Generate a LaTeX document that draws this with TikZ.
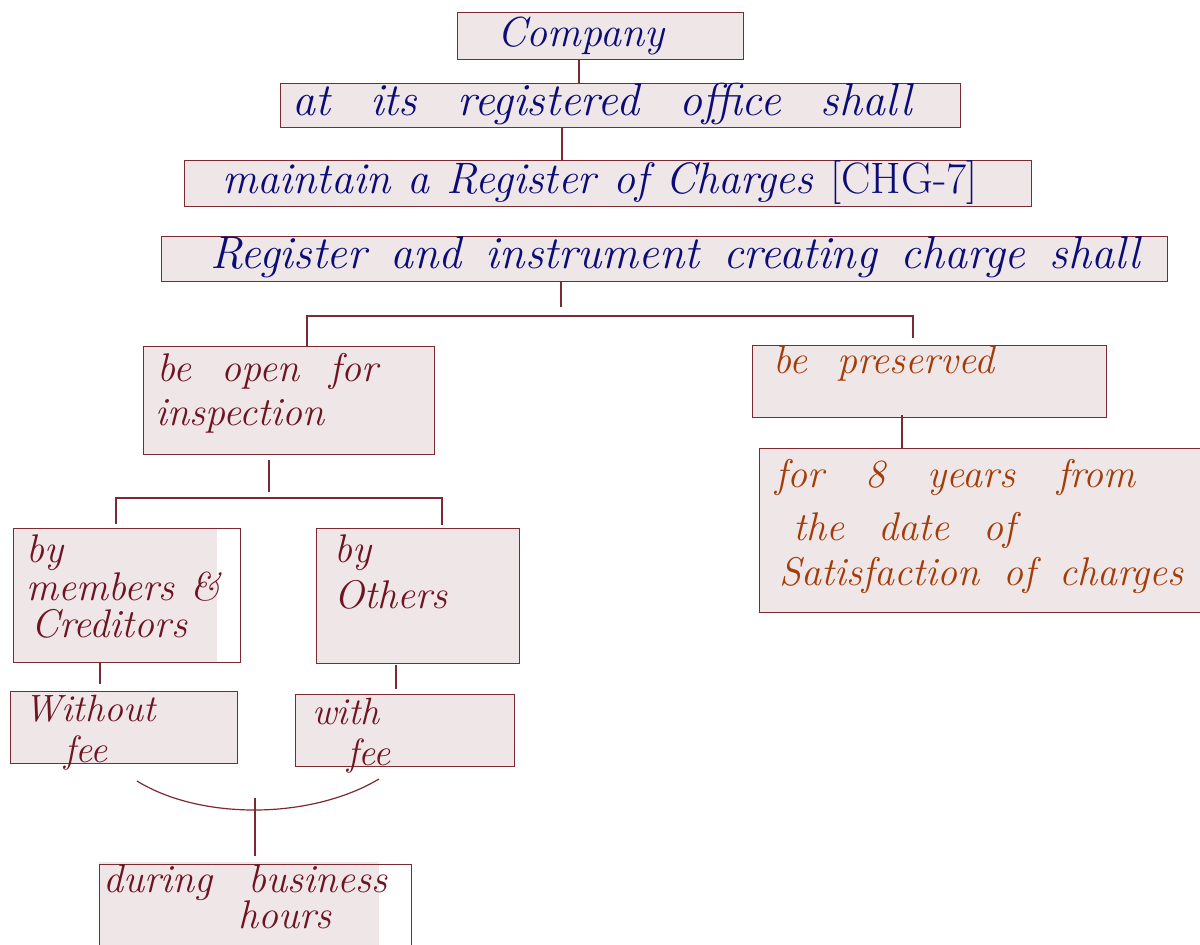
\documentclass[tikz,border=0pt]{standalone}
\usepackage{fontspec}
\definecolor{boxfill}{HTML}{EFE6E7}
\definecolor{boxline}{HTML}{7A2A32}
\definecolor{inkblue}{HTML}{0C0C78}
\definecolor{inkred}{HTML}{6E1422}
\definecolor{inkorange}{HTML}{A33C08}
\newcommand{\fs}[1]{\fontsize{#1}{#1}\selectfont\itshape}
\begin{document}
\begin{tikzpicture}[x=1pt,y=-1pt,
  box/.style={draw=boxline, fill=boxfill, line width=1.4pt, inner sep=0pt, anchor=north west},
  openbox/.style={draw=boxline, line width=1.4pt, inner sep=0pt, anchor=north west},
  conn/.style={draw=boxline, line width=1.2pt},
  txt/.style={anchor=base west, inner sep=0pt},
  blue/.style={txt, text=inkblue},
  red/.style={txt, text=inkred},
  orange/.style={txt, text=inkorange},
  wsp/.style={execute at begin node={\spaceskip=#1\relax}}]
\useasboundingbox[fill=white] (0,0) rectangle (1200,945);

% boxes
\node[box, minimum width=286pt, minimum height=47pt] (company) at (457,12) {};
\node[box, minimum width=680pt, minimum height=44pt] (office) at (280,83) {};
\node[box, minimum width=847pt, minimum height=46pt] (maintain) at (184,160) {};
\node[box, minimum width=1006pt, minimum height=45pt] (register) at (161,236) {};
\node[box, minimum width=291pt, minimum height=108pt] (open) at (143,346) {};
\node[box, minimum width=354pt, minimum height=72pt] (preserved) at (752,345) {};
\node[box, minimum width=450pt, minimum height=164pt] (years) at (759,448) {};
\fill[boxfill] (13,528) rectangle (217,662);
\node[openbox, minimum width=227pt, minimum height=134pt] (members) at (13,528) {};
\node[box, minimum width=203pt, minimum height=135pt] (others) at (316,528) {};
\node[box, minimum width=227pt, minimum height=72pt] (without) at (10,691) {};
\node[box, minimum width=219pt, minimum height=72pt] (with) at (295,694) {};
\fill[boxfill] (99,862) rectangle (379,950);
\node[openbox, minimum width=312pt, minimum height=90pt] (hours) at (99,864) {};

% connectors
\draw[conn] (company.south -| 579,0) -- (office.north -| 579,0);
\draw[conn] (office.south -| 562,0) -- (maintain.north -| 562,0);
\coordinate (r1) at (561,307);
\coordinate (bl) at (307,316);
\coordinate (br) at (913,316);
\coordinate (pr) at (913,338);
\draw[conn] (register.south -| r1) -- (r1);
\draw[conn] (open.north -| bl) -- (bl) -- (br) -- (pr);
\coordinate (p1) at (902,415);
\draw[conn] (p1) -- (years.north -| p1);
\coordinate (o1) at (269,460);
\coordinate (o2) at (269,492);
\coordinate (ml) at (116,498);
\coordinate (mr) at (442,498);
\coordinate (m1) at (116,524);
\coordinate (m2) at (442,525);
\draw[conn] (o1) -- (o2);
\draw[conn] (m1) -- (ml) -- (mr) -- (m2);
\coordinate (w1) at (100,684);
\draw[conn] (members.south -| w1) -- (w1);
\coordinate (f1) at (396,665);
\coordinate (f2) at (396,689);
\draw[conn] (f1) -- (f2);
\coordinate (a1) at (137,781);
\coordinate (a2) at (379,779);
\coordinate (h1) at (255,798);
\coordinate (h2) at (255,856);
\draw[conn] (a1) .. controls (200,820) and (310,820) .. (a2);
\draw[conn] (h1) -- (h2);

% texts
\node[blue, font=\fs{42}] (tcompany) at (497,46) {Company};
\node[blue, font=\fs{46}, wsp=40pt] (toffice) at (292,115) {at its registered office shall};
\node[blue, font=\fs{44}, wsp=17pt] (tmaintain) at (222,193) {maintain a Register of Charges \upshape[CHG-7]};
\node[blue, font=\fs{46}, wsp=24pt] (tregister) at (210,268) {Register and instrument creating charge shall};

\node[red, font=\fs{40}, wsp=30pt] (topen1) at (157,381) {be open for};
\node[red, font=\fs{40}] (topen2) at (155,425) {inspection};

\node[orange, font=\fs{40}, wsp=30pt] (tpres) at (773,373) {be preserved};
\node[orange, font=\fs{40}, wsp=42pt] (tyears1) at (775,487) {for 8 years from};
\node[orange, font=\fs{40}, wsp=34pt] (tyears2) at (793,540) {the date of};
\node[orange, font=\fs{40}, wsp=24pt] (tyears3) at (779,585) {Satisfaction of charges};

\node[red, font=\fs{40}] (tmem1) at (26,562) {by};
\node[red, font=\fs{40}, wsp=16pt] (tmem2) at (26,600) {members \&};
\node[red, font=\fs{40}] (tmem3) at (31,637) {Creditors};
\node[red, font=\fs{40}] (toth1) at (334,562) {by};
\node[red, font=\fs{40}] (toth2) at (334,608) {Others};
\node[red, font=\fs{38}] (two1) at (24,721) {Without};
\node[red, font=\fs{38}] (two2) at (64,762) {fee};
\node[red, font=\fs{38}] (twi1) at (312,724) {with};
\node[red, font=\fs{38}] (twi2) at (347,765) {fee};
\node[red, font=\fs{40}, wsp=36pt] (thr1) at (103,892) {during business};
\node[red, font=\fs{40}] (thr2) at (238,928) {hours};
\end{tikzpicture}
\end{document}
